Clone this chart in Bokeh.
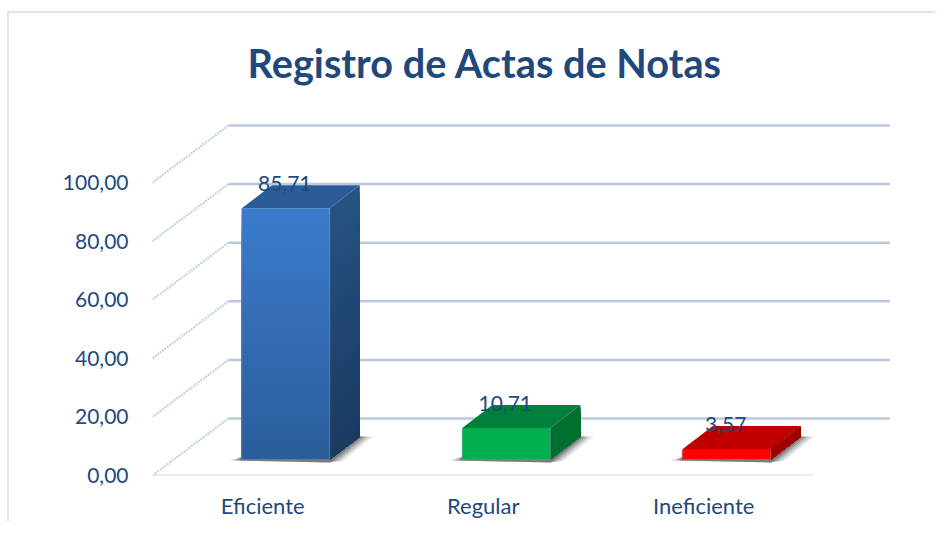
from bokeh.plotting import figure
from bokeh.models import FixedTicker, Title, Range1d
from bokeh.embed import file_html
from bokeh.resources import INLINE
from bokeh.core.properties import value

categories = ["Eficiente", "Regular", "Ineficiente"]
values = [85.71, 10.71, 3.57]
value_labels = ["85,71", "10,71", "3,57"]
y_ticks = [0, 20, 40, 60, 80, 100]
y_tick_labels = ["0,00", "20,00", "40,00", "60,00", "80,00", "100,00"]
title_text = "Registro de Actas de Notas"

PXX = 220.5     # px per category
PXY = 2.93      # px per value unit
INK = "#1f497d"
FONT = "Lato"

front_top = ["#3b7bcc", "#00b04f", "#ff0000"]
front_bot = ["#2b5c9a", "#00b04f", "#ff0000"]
top_col = ["#2b5c99", "#00803a", "#c00000"]
side_top = ["#265283", "#007030", "#a00000"]
side_bot = ["#1a3a60", "#007030", "#a00000"]


def dx(px):
    return px / PXX


def dy(px):
    return px / PXY


def mix(a, b, t):
    ca = [int(a[i:i + 2], 16) for i in (1, 3, 5)]
    cb = [int(b[i:i + 2], 16) for i in (1, 3, 5)]
    return "#%02x%02x%02x" % tuple(round(u + (v - u) * t) for u, v in zip(ca, cb))


p = figure(width=928, height=510, output_backend="svg", toolbar_location=None,
           x_range=Range1d(-0.5, -0.5 + 785 / PXX), y_range=Range1d(0, 375 / PXY),
           min_border_left=143, min_border_right=0, min_border_top=87, min_border_bottom=48,
           outline_line_color=None, background_fill_color="white", border_fill_color="white")
p.styles = {"border-top": "2px solid #dce6f3", "border-left": "2px solid #dce6f3",
            "margin-top": "11px", "margin-left": "7px"}
p.grid.visible = False

p.title = Title(text=title_text, align="left", offset=95, standoff=29,
                text_font=FONT, text_font_style="bold", text_font_size="39.7px", text_color=INK)

# axes
p.yaxis.ticker = FixedTicker(ticks=y_ticks)
p.yaxis.major_label_overrides = dict(zip(y_ticks, y_tick_labels))
p.yaxis.major_tick_line_color = None
p.yaxis.minor_tick_line_color = None
p.yaxis.axis_line_color = None
p.yaxis.major_label_standoff = 18
p.yaxis.major_label_text_font = FONT
p.yaxis.major_label_text_font_size = "21px"
p.yaxis.major_label_text_color = INK

xpos = list(range(len(categories)))
p.xaxis.ticker = FixedTicker(ticks=xpos)
p.xaxis.major_label_overrides = dict(zip(xpos, categories))
p.xaxis.major_tick_line_color = None
p.xaxis.minor_tick_line_color = None
p.xaxis.axis_line_color = None
p.xaxis.major_label_standoff = 10
p.xaxis.major_label_text_font = FONT
p.xaxis.major_label_text_font_size = "22px"
p.xaxis.major_label_text_color = INK

# floor and walls
wall_dx, wall_dy = dx(76), dy(57)
x_left, x_right = -0.5, -0.5 + len(categories)
p.line([x_left, x_right], [0, 0], line_color="#cfdcef", line_width=2.2)
for t in y_ticks:
    p.line([x_left, x_left + wall_dx], [t, t + wall_dy], line_color="#c4d2e6", line_width=2.2, line_dash="2 1")
    p.line([x_left + wall_dx, x_right + dx(76)], [t + wall_dy, t + wall_dy], line_color="#bcc9dc", line_width=2.5)

# bars
bar_off_x, bar_off_y = dx(23), dy(16)
half_w = dx(44)
depth_x, depth_y = dx(30), dy(23)
N = 40
for i, v in enumerate(values):
    x0, x1 = i + bar_off_x - half_w, i + bar_off_x + half_w
    y0, y1 = bar_off_y, bar_off_y + v
    # soft shadow under the front edge and to the right of the side face
    for s, alpha in ((1.0, 0.08), (0.8, 0.12), (0.6, 0.16), (0.4, 0.22), (0.2, 0.3)):
        p.patch([x0 - dx(14) * s, x1, x1 + dx(14) * s, x1 + depth_x + dx(14) * s, x1 + depth_x, x0],
                [y0 - dy(1), y0 - dy(3), y0 - dy(1.5), y0 + depth_y, y0 + depth_y, y0 + dy(3)],
                fill_color="#303030", fill_alpha=alpha, line_color=None)
    # side and front: painted top down, each band reaching the bar's foot, so the shading has no seams
    for k in range(N):
        t = k / N
        a = y1 - (y1 - y0) * t
        p.patch([x1, x1 + depth_x, x1 + depth_x, x1], [a, a + depth_y, y0 + depth_y, y0],
                fill_color=mix(side_top[i], side_bot[i], t), line_color=None)
        p.patch([x0, x1, x1, x0], [a, a, y0, y0],
                fill_color=mix(front_top[i], front_bot[i], t), line_color=None)
    # top
    p.patch([x0, x1, x1 + depth_x, x0 + depth_x], [y1, y1, y1 + depth_y, y1 + depth_y],
            fill_color=top_col[i], line_color=None)
    p.line([x0, x0, x1, x1], [y1, y0, y0, y1], line_color="#8a93a0", line_width=0.8, line_alpha=0.7)
    p.text([i + bar_off_x - dx(1)], [y1 + dy(25)], text=[value_labels[i]], text_align="center",
           text_baseline="middle", text_font=value(FONT), text_font_size="21px", text_color=INK)

open("out.html", "w").write(file_html(p, INLINE))
